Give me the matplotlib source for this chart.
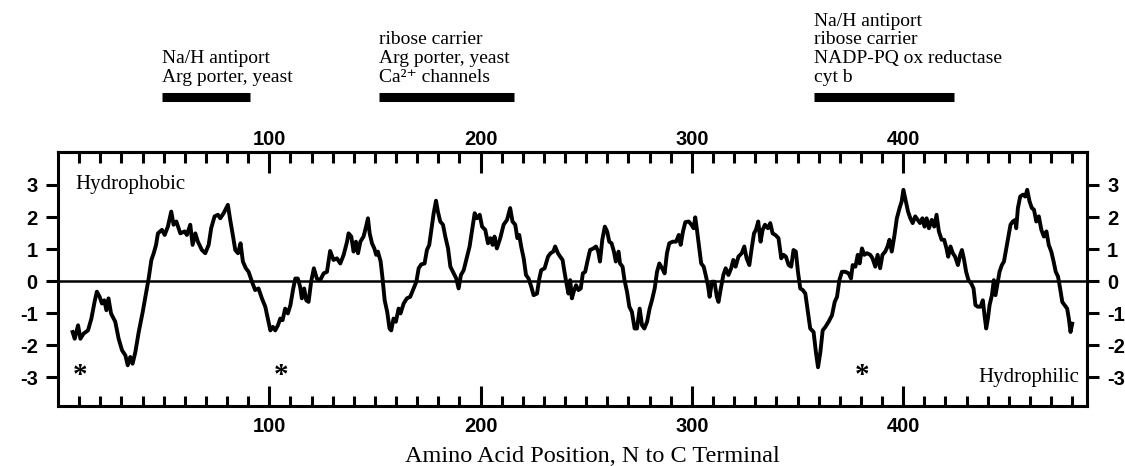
import matplotlib
matplotlib.use("Agg")
import matplotlib.pyplot as plt
import matplotlib.transforms as mtransforms

plt.rcParams["font.family"] = "Liberation Sans"
plt.rcParams["axes.unicode_minus"] = False

# hydropathy profile (residue, score)
positions = [
    6.9, 7.9, 9.5, 10.6, 12.1, 14.2, 15.8, 17.3, 18.4, 19.7, 20.8, 21.9, 22.9, 23.9, 25.1, 27.1,
    28.7, 30.3, 31.9, 33.0, 34.2, 35.3, 36.6, 38.2, 40.1, 41.8, 42.9, 44.2, 45.3, 46.4, 47.3, 49.2,
    50.5, 52.0, 53.6, 54.7, 56.0, 57.9, 59.9, 61.0, 62.6, 63.7, 65.0, 66.2, 68.1, 69.7,
    71.3, 72.5, 74.1, 75.7, 76.8, 78.4, 80.4, 81.5, 82.6, 83.9, 85.2, 86.4, 87.5, 88.9, 90.2, 91.8,
    93.3, 94.9, 96.5, 98.1, 99.3, 100.5, 101.7, 102.8, 104.1, 105.2, 106.3, 107.5, 108.8, 110.0,
    111.2, 112.3, 113.5, 114.6, 115.4, 116.5, 117.5, 118.6, 119.8, 121.1, 122.5, 124.1, 125.7,
    127.3, 128.8, 130.4, 132.0, 133.6, 135.2, 136.8,
    137.5, 138.8, 139.9, 141.0, 142.0, 143.1, 144.6, 145.8, 146.7, 147.5, 148.6, 149.7, 150.6,
    151.4, 152.7, 153.6, 154.6, 155.8, 156.9, 157.7, 158.8, 159.9, 161.2, 162.1, 163.6, 165.1,
    166.7, 168.3, 169.6, 170.7, 171.9, 173.5, 174.6, 175.7, 176.7, 177.8, 178.9, 179.8, 180.9,
    182.2, 183.3, 184.6, 185.7, 187.3, 188.5, 189.6, 190.7, 192.0, 193.6, 194.8, 196.0, 197.2,
    198.3, 199.6, 200.7,
    202.2, 203.5, 204.6, 205.7, 206.6, 207.7, 209.3, 210.9, 212.5, 214.0, 215.1, 216.4, 217.4,
    218.3, 219.2, 220.4, 221.5, 222.7, 224.0, 225.1, 226.7, 227.8, 228.7, 230.3, 231.9, 233.1,
    234.4, 235.3, 236.6, 237.7, 238.8, 239.7, 240.8, 241.6, 242.4, 243.2, 244.3, 245.2, 246.3,
    247.4, 248.4, 249.5, 250.7, 251.8, 253.4, 254.6, 255.7, 256.5, 257.6, 258.8, 259.9, 260.9,
    262.0, 263.1, 264.0, 265.3, 266.0, 267.2, 268.1,
    269.3, 270.4, 271.6, 272.9, 274.0, 275.3, 276.4, 277.5, 278.8, 280.0, 281.1, 282.4, 283.5,
    284.6, 285.9, 287.1, 288.2, 289.3, 290.9, 292.5, 293.8, 294.7, 295.8, 296.9, 298.5, 299.8,
    300.8, 301.6, 302.4, 303.5, 304.4, 305.6, 306.7, 307.6, 308.4, 309.5, 310.7, 311.8, 312.6,
    313.7, 314.9, 316.0, 317.3, 318.6, 319.6, 320.7, 322.0, 323.6, 324.8, 325.9, 327.2, 328.3,
    329.4, 330.3, 331.4, 332.5, 333.5, 334.6,
    336.0, 337.1, 338.2, 339.5, 341.0, 342.3, 343.4, 344.5, 345.8, 347.0, 348.1, 349.2, 350.2,
    351.3, 352.5, 353.7, 354.9, 356.0, 357.6, 358.7, 359.7, 360.8, 361.9, 363.2, 364.7, 366.3,
    367.6, 368.7, 369.8, 371.0, 372.6, 374.2, 375.3, 376.1, 377.4, 378.5, 379.4, 380.5, 381.6,
    382.9, 384.4, 385.5, 386.8, 387.9, 389.1, 390.2, 391.5, 392.6, 393.5, 394.6, 395.9, 397.0,
    398.3, 399.3, 400.1,
    402.3, 403.4, 404.5, 405.7, 406.9, 408.0, 409.1, 410.1, 411.1, 412.2, 413.5, 414.7, 415.8,
    416.9, 418.2, 419.4, 420.5, 421.3, 422.4, 423.5, 424.6, 425.9, 427.0, 427.8, 428.7, 429.8,
    430.9, 432.2, 433.3, 434.2, 435.3, 436.6, 437.7, 438.5, 439.3, 440.1, 440.9, 442.0, 442.9,
    443.7, 444.8, 445.6, 446.7, 447.7, 448.8, 449.9, 450.8, 451.9, 453.0, 453.5, 454.3, 455.4,
    456.7, 457.8, 458.7, 459.8, 460.9, 461.9, 463.0, 464.2, 465.4, 466.6, 467.8, 468.9, 470.1,
    471.2, 472.2, 473.3, 474.4, 475.3, 476.4, 477.6, 478.4, 479.2, 480.0,
]
scores = [
    -1.59, -1.80, -1.38, -1.80, -1.64, -1.54, -1.17, -0.65, -0.33, -0.49, -0.70, -0.60, -0.91, -0.54, -1.01, -1.27,
    -1.80, -2.16, -2.32, -2.63, -2.37, -2.58, -2.22, -1.59, -0.96, -0.33, 0.08, 0.66, 0.87, 1.13, 1.49, 1.60,
    1.44, 1.70, 2.17, 1.76, 1.86, 1.49, 1.55, 1.44, 1.76, 1.13, 1.49, 1.23, 0.97, 0.87,
    1.13, 1.65, 2.02, 2.07, 1.96, 2.12, 2.38, 1.91, 1.49, 0.97, 0.87, 1.18, 0.61, 0.40, 0.29, -0.02,
    -0.28, -0.23, -0.54, -0.80, -1.17, -1.54, -1.43, -1.54, -1.38, -1.17, -1.22, -0.86, -1.01, -0.75,
    -0.28, 0.08, 0.08, -0.18, -0.54, -0.23, -0.60, -0.65, -0.02, 0.40, 0.08, 0.03, 0.24,
    0.29, 0.94, 0.66, 0.71, 0.55, 0.82, 1.23,
    1.49, 1.39, 0.92, 1.23, 0.87, 1.23, 1.39, 1.70, 1.96, 1.49, 1.18, 1.02, 0.82,
    0.92, 0.61, 0.08, -0.60, -0.96, -1.48, -1.54, -1.17, -1.27, -0.86, -1.01, -0.70, -0.54,
    -0.49, -0.23, -0.02, 0.40, 0.52, 0.55, 0.97, 1.13, 1.60, 2.12, 2.51, 2.17, 1.86,
    1.76, 1.39, 1.02, 0.45, 0.24, 0.08, -0.23, 0.19, 0.34, 0.76, 1.08, 1.60, 2.12,
    1.96, 2.07, 1.70,
    1.60, 1.18, 1.34, 1.13, 1.39, 1.02, 1.34, 1.76, 1.91, 2.28, 1.86, 1.76, 1.34,
    1.44, 1.08, 0.71, 0.19, 0.08, -0.18, -0.44, -0.39, 0.08, 0.34, 0.40, 0.76, 0.87,
    0.92, 1.08, 0.87, 0.76, 0.66, 0.29, -0.13, -0.39, 0.03, -0.54, -0.28, -0.13, -0.28,
    -0.23, 0.24, 0.29, 0.66, 0.97, 1.02, 1.08, 0.92, 0.61, 1.29, 1.70, 1.55, 1.23,
    1.18, 0.92, 0.61, 0.92, 0.55, 0.45, 0.03,
    -0.33, -0.80, -0.96, -1.48, -1.48, -0.86, -1.38, -1.48, -1.27, -0.86, -0.60, -0.23, 0.29,
    0.55, 0.40, 0.24, 0.87, 1.18, 1.23, 1.23, 1.44, 1.13, 1.55, 1.84, 1.86, 1.76,
    1.65, 1.99, 1.60, 1.02, 0.55, 0.45, 0.14, -0.13, -0.49, -0.02, -0.02, -0.49, -0.65,
    -0.23, 0.19, 0.40, 0.19, 0.40, 0.66, 0.45, 0.76, 0.87, 1.08, 0.71, 0.50, 1.02,
    1.49, 1.60, 1.86, 1.23, 1.60, 1.76,
    1.65, 1.81, 1.49, 1.44, 1.34, 0.71, 0.82, 0.76, 0.50, 0.45, 0.97, 0.92, 0.29,
    -0.23, -0.28, -0.39, -0.96, -1.48, -1.59, -2.22, -2.69, -2.22, -1.54, -1.43, -1.27, -1.07,
    -0.65, -0.49, 0.03, 0.29, 0.29, 0.24, 0.08, 0.50, 0.45, 0.82, 0.55, 1.02, 0.82,
    0.87, 0.82, 0.71, 0.45, 0.82, 0.40, 0.82, 0.92, 1.08, 1.29, 0.92, 1.44, 1.96,
    2.28, 2.49, 2.85,
    2.17, 1.96, 1.81, 2.02, 1.91, 1.81, 1.96, 1.70, 1.96, 1.65, 1.91, 1.70, 2.07,
    1.55, 1.29, 1.29, 1.02, 0.76, 1.08, 0.87, 0.76, 0.50, 0.82, 0.97, 0.71, 0.29,
    0.03, -0.07, -0.23, -0.75, -0.80, -0.80, -0.60, -1.07, -1.48, -1.17, -0.75, -0.44, 0.03,
    -0.44, -0.02, 0.29, 0.50, 0.61, 1.02, 1.44, 1.76, 1.86, 1.91, 1.65, 2.28, 2.64,
    2.70, 2.64, 2.85, 2.49, 2.28, 2.23, 1.86, 2.02, 1.60, 1.39, 1.55, 1.13, 0.92,
    0.61, 0.29, 0.14, -0.28, -0.65, -0.75, -0.86, -1.17, -1.59, -1.33,
]

y_ticks = [-3, -2, -1, 0, 1, 2, 3]
x_major = [100, 200, 300, 400]
x_minor = list(range(10, 490, 10))

asterisk_positions = [10.5, 105.5, 380.5]

homology_ranges = [(49, 91), (152, 216), (358, 424)]
homology_labels = [
    ["Na/H antiport", "Arg porter, yeast"],
    ["ribose carrier", "Arg porter, yeast", "Ca²⁺ channels"],
    ["Na/H antiport", "ribose carrier", "NADP-PQ ox reductase", "cyt b"],
]

W, H = 1125, 466
fig = plt.figure(figsize=(W / 100, H / 100), dpi=100)
ax = fig.add_axes([58 / W, 60 / H, 1029 / W, 254 / H])

ax.plot(positions, scores, color="black", lw=2.8, solid_joinstyle="round")
ax.axhline(0, color="black", lw=1.8)

ax.set_xlim(0, 487)
ax.set_ylim(-3.9, 4.03)

for s in ax.spines.values():
    s.set_linewidth(2.2)

ax.set_yticks(y_ticks)
ax.tick_params(axis="y", direction="out", length=8.5, width=2.2, left=True, right=True,
               labelleft=True, labelright=True, pad=6, labelsize=14.5)
ax.set_xticks(x_major)
ax.set_xticks(x_minor, minor=True)
ax.tick_params(axis="x", which="both", direction="in", bottom=True, top=False, width=2.2,
               labelsize=14.5, pad=8)
ax.tick_params(axis="x", which="major", length=14.5)
ax.tick_params(axis="x", which="minor", length=7)
for lab in ax.get_xticklabels() + ax.get_yticklabels():
    lab.set_fontweight("bold")

# top axis: same ticks, labels sit closer to the frame
top = ax.secondary_xaxis("top")
top.set_xticks(x_major)
top.set_xticks(x_minor, minor=True)
top.tick_params(axis="x", which="both", direction="in", width=2.2, pad=2.5, labelsize=14.5)
top.tick_params(axis="x", which="major", length=15)
top.tick_params(axis="x", which="minor", length=8)
top.spines["top"].set_linewidth(2.2)
for lab in top.get_xticklabels():
    lab.set_fontweight("bold")

serif = ["Liberation Serif", "DejaVu Serif"]
ax.text(8, 3, "Hydrophobic", family=serif, fontsize=15, va="center", ha="left")
ax.text(483.5, -3, "Hydrophilic", family=serif, fontsize=15, va="center", ha="right")
for p in asterisk_positions:
    ax.text(p, -2.95, "*", family=serif, fontsize=21, weight="bold", ha="center", va="center")

blend = mtransforms.blended_transform_factory(ax.transData, fig.transFigure)
bar_y = 1 - 97 / H
for (a, b), lines in zip(homology_ranges, homology_labels):
    ax.plot([a, b], [bar_y, bar_y], transform=blend, color="black", lw=6.5,
            solid_capstyle="butt", clip_on=False)
    n = len(lines)
    for i, t in enumerate(lines):
        py = 77 - (n - 1 - i) * 18.5
        ax.text(a, 1 - py / H, t, transform=blend, family=serif, fontsize=14,
                ha="left", va="center")

fig.text(592 / W, 1 - 456 / H, "Amino Acid Position, N to C Terminal", family=serif,
         fontsize=17.5, ha="center", va="center")

fig.savefig("out.png", dpi=100)
